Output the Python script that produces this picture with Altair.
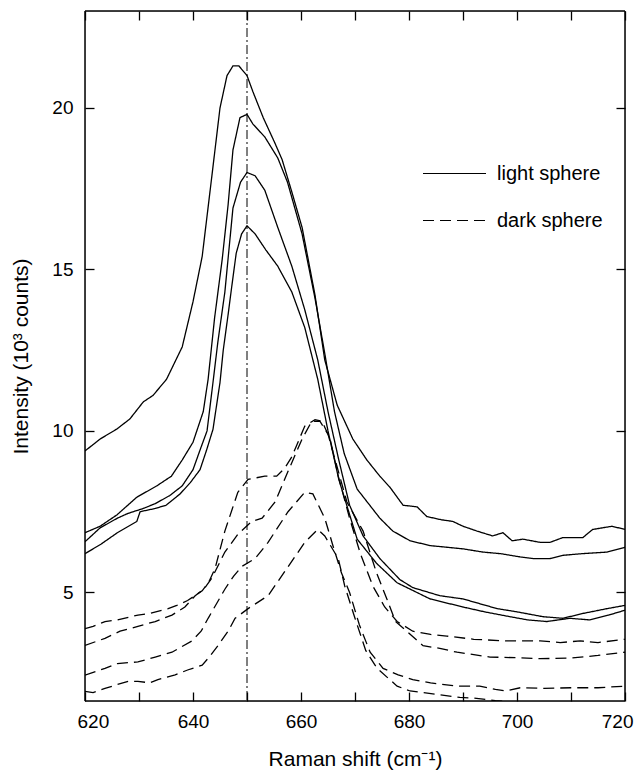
import altair as alt
import pandas as pd

# ---- data ----
a_x = [620, 622.8, 625.9, 628.3, 630.8, 632.6, 635.1, 638, 640, 641.7, 643.5, 645, 646.3, 647.4, 648.5, 650, 651.1, 653, 655.2, 656.5, 658.3, 660.2, 662.6, 664.4, 666.7, 669.6, 672.2, 674.6, 676.5, 678.9, 681.5, 683.3, 686, 688.1, 690, 692.6, 695.5, 697.4, 699.1, 701.1, 704.3, 706.1, 708.5, 712.2, 714, 717.6, 720]
a_y = [9.38, 9.75, 10.06, 10.37, 10.9, 11.1, 11.6, 12.6, 14.0, 15.4, 17.9, 20.0, 21.0, 21.3, 21.3, 21.0, 20.5, 19.7, 18.9, 18.4, 17.4, 16.3, 14.2, 12.2, 10.8, 9.75, 9.1, 8.6, 8.25, 7.7, 7.65, 7.35, 7.25, 7.2, 7.05, 6.9, 6.75, 6.85, 6.6, 6.65, 6.55, 6.55, 6.7, 6.7, 6.95, 7.05, 6.95]

b_x = [620, 622.8, 625.9, 629.6, 633.3, 636, 638, 640, 641.9, 642.8, 644, 645.4, 646.5, 647.4, 648.7, 650, 651.1, 653.3, 655.7, 657.5, 660.2, 662.6, 664.4, 666.2, 668, 670.4, 674.6, 677, 680.2, 683.9, 687, 690, 693.7, 697, 700.6, 703, 706.1, 708.5, 712, 716.7, 720]
b_y = [6.85, 7.05, 7.4, 7.95, 8.3, 8.6, 9.1, 9.65, 10.6, 11.6, 13.5, 15.3, 17.0, 18.7, 19.7, 19.8, 19.5, 19.1, 18.45, 17.7, 16.1, 14.1, 12.4, 10.6, 9.3, 8.2, 7.3, 6.9, 6.6, 6.45, 6.4, 6.35, 6.25, 6.2, 6.1, 6.05, 6.05, 6.15, 6.2, 6.25, 6.4]

c_x = [620, 622.8, 626, 628, 630.8, 633, 635.7, 638, 640, 641.5, 642.6, 643.7, 644.6, 645.9, 647.4, 648.8, 650, 651.5, 653.3, 655.7, 658.3, 660.7, 663.1, 665, 667, 669, 671.5, 674.6, 678.3, 680.7, 685.7, 690, 696.3, 700, 704.8, 708.5, 712.2, 716.7, 720]
c_y = [6.57, 7.0, 7.3, 7.45, 7.6, 7.75, 8.0, 8.3, 8.8, 9.5, 10.0, 11.5, 12.75, 14.3, 16.9, 17.7, 18.0, 17.9, 17.45, 16.3, 15.1, 13.75, 12.2, 10.6, 9.1, 7.7, 6.75, 6.05, 5.4, 5.15, 4.9, 4.8, 4.5, 4.4, 4.25, 4.2, 4.35, 4.5, 4.6]

d_x = [620, 623, 626, 629.6, 630.2, 633, 635, 637.6, 639.5, 641.3, 642.5, 643.7, 645, 645.6, 646.5, 647.2, 648, 649, 650, 651.5, 653.5, 655.7, 658.3, 660.7, 663.1, 665, 667, 670.4, 674, 677.8, 683.9, 690, 694, 698.7, 702, 705.5, 709.8, 713.5, 717, 720]
d_y = [6.2, 6.5, 6.85, 7.2, 7.5, 7.6, 7.7, 8.05, 8.4, 8.8, 9.4, 10.05, 11.5, 12.5, 13.6, 14.5, 15.5, 16.1, 16.35, 16.1, 15.6, 15.1, 14.3, 13.2, 11.6, 10.0, 8.5, 6.65, 5.9, 5.3, 4.8, 4.55, 4.4, 4.25, 4.15, 4.1, 4.2, 4.15, 4.3, 4.45]

e_x = [620, 621.5, 623.7, 626, 629.8, 632, 635.4, 637, 639, 641.7, 643, 644.1, 645.9, 648.3, 650.2, 653.3, 655.5, 657, 658.3, 660.7, 662.6, 663.9, 665.4, 666.9, 669, 671, 673.3, 675.5, 677.8, 680.7, 684, 687, 692, 698.1, 704.3, 708, 711.7, 715, 720]
e_y = [3.88, 3.95, 4.1, 4.15, 4.3, 4.35, 4.5, 4.6, 4.75, 5.05, 5.35, 5.75, 6.9, 8.1, 8.5, 8.6, 8.6, 8.85, 9.2, 10.15, 10.35, 10.3, 9.75, 8.6, 7.3, 6.2, 5.2, 4.55, 4.1, 3.8, 3.7, 3.65, 3.55, 3.5, 3.5, 3.45, 3.5, 3.45, 3.55]

f_x = [620, 623.7, 626.5, 629.8, 633, 636.1, 638.5, 640.4, 642, 643.5, 645.9, 648.3, 650.9, 652.8, 655.2, 657.6, 660.2, 662, 663.5, 665, 666.5, 668.5, 671.5, 674, 675.9, 677.5, 679.6, 682.6, 685.7, 688.9, 695, 700, 704.3, 710, 715, 720]
f_y = [3.36, 3.58, 3.8, 3.95, 4.1, 4.3, 4.55, 4.9, 5.1, 5.45, 6.25, 6.8, 7.2, 7.3, 7.8, 8.75, 9.75, 10.3, 10.3, 9.9, 9.0, 7.8, 6.9, 5.6, 4.8, 4.1, 3.8, 3.35, 3.27, 3.15, 3.0, 2.98, 2.95, 2.97, 3.05, 3.15]

g_x = [620, 623.7, 626, 629.8, 633, 636.1, 639.8, 641.5, 642.8, 645.9, 647.5, 649, 651.5, 653.9, 657.6, 660.7, 662.2, 664.4, 666, 667.5, 669, 670.8, 672.8, 675.2, 678, 680.7, 684, 688.9, 693.1, 696, 698, 700.6, 705, 710, 715, 720]
g_y = [2.44, 2.65, 2.8, 2.85, 3.0, 3.15, 3.5, 3.8, 4.2, 5.1, 5.5, 5.8, 6.05, 6.55, 7.5, 8.1, 8.05, 7.3, 6.4, 5.6, 5.0, 4.0, 3.15, 2.65, 2.45, 2.3, 2.2, 2.1, 2.1, 2.0, 1.95, 2.05, 2.03, 2.05, 2.05, 2.1]

h_x = [620, 621.5, 623.7, 626, 628, 629.8, 632, 633.5, 636.7, 639, 641.7, 643, 644.6, 646.5, 647.8, 650.2, 653.9, 657, 660.7, 663.1, 664.4, 666.9, 668.1, 670, 672, 674.1, 677.8, 680.2, 685, 689.4, 692, 696, 700, 710, 720]
h_y = [1.94, 1.9, 2.03, 2.15, 2.25, 2.25, 2.2, 2.3, 2.45, 2.6, 2.75, 3.0, 3.35, 3.8, 4.2, 4.5, 4.9, 5.65, 6.55, 6.95, 6.75, 6.05, 5.2, 4.2, 3.2, 2.65, 2.1, 1.95, 1.85, 1.75, 1.73, 1.65, 1.6, 1.55, 1.55]

series_names = ["light sphere", "dark sphere"]
marker_x = [650]
x_tick_values = [620, 630, 640, 650, 660, 670, 680, 690, 700, 710, 720]
y_ticks = [5, 10, 15, 20]
x_edges = [620, 720]
y_edges = [1.64, 23]

curves = [
    ("A", series_names[0], a_x, a_y),
    ("B", series_names[0], b_x, b_y),
    ("C", series_names[0], c_x, c_y),
    ("D", series_names[0], d_x, d_y),
    ("E", series_names[1], e_x, e_y),
    ("F", series_names[1], f_x, f_y),
    ("G", series_names[1], g_x, g_y),
    ("H", series_names[1], h_x, h_y),
]
rows = []
for cid, kind, xs, ys in curves:
    for i, (xv, yv) in enumerate(zip(xs, ys)):
        rows.append({"curve": cid, "kind": kind, "x": xv, "y": yv, "i": i})
df = pd.DataFrame(rows)

W, H = 540, 690
FONT = "Liberation Sans"
TICK = 9
xscale = alt.Scale(domain=x_edges, nice=False, zero=False)
yscale = alt.Scale(domain=y_edges, nice=False, zero=False)

x_axis = alt.Axis(values=x_tick_values, labelExpr="datum.value % 20 == 0 ? datum.label : ''",
                  title="Raman shift (cm⁻¹)", ticks=True, tickSize=TICK, offset=-TICK,
                  tickColor="black", tickWidth=1.3, domain=False, labelFlush=True,
                  labelFlushOffset=8,
                  grid=False, labelFontSize=19, labelPadding=11, titleFontSize=21,
                  titlePadding=17, labelFont=FONT, titleFont=FONT, labelColor="black",
                  titleColor="black", titleFontWeight="normal")
y_axis = alt.Axis(values=y_ticks, title="Intensity (10³ counts)", ticks=True, tickSize=TICK,
                  offset=-TICK, tickColor="black", tickWidth=1.3, domain=False,
                  grid=False, labelFontSize=19, labelPadding=12, titleFontSize=21,
                  titlePadding=20, labelFont=FONT, titleFont=FONT, labelColor="black",
                  titleColor="black", titleFontWeight="normal")
top_axis = alt.Axis(orient="top", values=x_tick_values, labels=False, title="", ticks=True,
                    tickSize=TICK, offset=-TICK, tickColor="black", tickWidth=1.3,
                    domain=False, grid=False)
right_axis = alt.Axis(orient="right", values=y_ticks, labels=False, title="", ticks=True,
                      tickSize=TICK, offset=-TICK, tickColor="black", tickWidth=1.3,
                      domain=False, grid=False)

lines = alt.Chart(df).mark_line(strokeWidth=1.3, color="black", clip=True).encode(
    x=alt.X("x:Q", scale=xscale, axis=x_axis),
    y=alt.Y("y:Q", scale=yscale, axis=y_axis),
    detail="curve:N",
    order="i:Q",
    strokeDash=alt.StrokeDash(
        "kind:N",
        scale=alt.Scale(domain=series_names, range=[[1, 0], [11, 6]]),
        legend=alt.Legend(title=None, orient="none", legendX=337, legendY=130,
                          symbolType="stroke", symbolSize=3969, symbolStrokeWidth=1.2,
                          symbolStrokeColor="black", labelFontSize=20, labelFont=FONT,
                          labelColor="black", labelOffset=10, rowPadding=4, padding=0),
    ),
)

vline = alt.Chart(pd.DataFrame({"m": marker_x})).mark_rule(
    color="black", strokeWidth=1, strokeDash=[9, 3, 2, 3]
).encode(x=alt.X("m:Q", scale=xscale, axis=None))

# frame (the top / right tick axes ride on these layers)
fx = alt.Chart(pd.DataFrame({"fx": x_edges})).mark_rule(color="black", strokeWidth=1.5).encode(
    x=alt.X("fx:Q", scale=xscale, axis=top_axis))
fy = alt.Chart(pd.DataFrame({"fy": y_edges})).mark_rule(color="black", strokeWidth=1.5).encode(
    y=alt.Y("fy:Q", scale=yscale, axis=right_axis))

chart = alt.layer(lines, vline, fx, fy).resolve_axis(
    x="independent", y="independent"
).properties(
    width=W, height=H,
    autosize=alt.AutoSizeParams(type="none"),
    padding={"left": 77, "top": 3, "right": 10, "bottom": 70},
).configure(background="white")

chart.save("out.html", embed_options={"renderer": "svg", "actions": False})
